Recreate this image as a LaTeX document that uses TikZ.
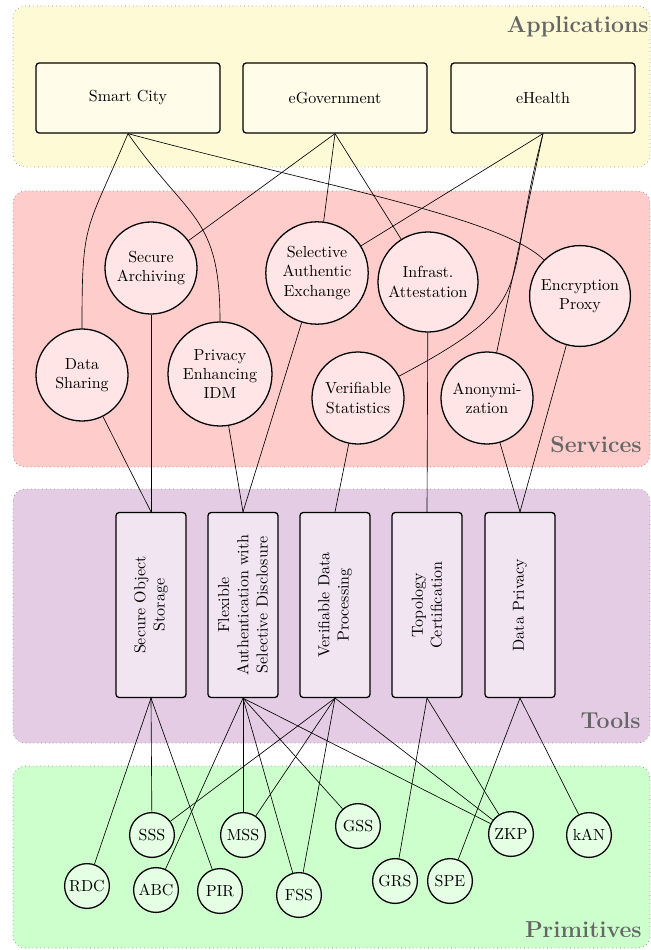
\documentclass[tikz,border=0pt]{standalone}
\usepackage{tikz}
\definecolor{appyellow}{RGB}{255,250,214}
\definecolor{appbox}{RGB}{255,252,234}
\tikzset{
  app_n/.style = {rectangle, rounded corners=2pt, draw=black, thick,
    fill=appbox, minimum width=115pt, minimum height=43.75pt, align=center},
  srv_n/.style = {circle, draw=black, thick, fill=red!10, inner sep=-5pt,
    minimum size=57.5pt, align=center},
  tool_n/.style = {rectangle, rounded corners=2pt, draw=black, thick,
    fill=violet!10, rotate=90, minimum width=115.6pt, minimum height=43.75pt,
    align=center},
  prim_n/.style = {circle, draw=black, thick, fill=green!10, inner sep=0.5pt,
    minimum size=28pt},
  layer_bg/.style = {rounded corners=7.5pt, draw=gray, dotted},
  layer_lbl/.style = {font=\Large\bfseries, text=black!60, anchor=base east,
    inner sep=0pt}
}
\begin{document}
\begin{tikzpicture}[x=0.625pt,y=0.625pt]
  \useasboundingbox (0,0) rectangle (651,-950);
  \filldraw[layer_bg, fill=appyellow] (13,-6) rectangle (650,-167);
  \filldraw[layer_bg, fill=red!20] (13,-191) rectangle (650,-467);
  \filldraw[layer_bg, fill=violet!20] (13,-489) rectangle (650,-743);
  \filldraw[layer_bg, fill=green!20] (13,-766) rectangle (650,-948);
  \node[layer_lbl] (l_app) at (649,-33) {Applications};
  \node[layer_lbl] (l_srv) at (642,-452) {Services};
  \node[layer_lbl] (l_tool) at (641,-728) {Tools};
  \node[layer_lbl] (l_prim) at (642,-937) {Primitives};

  \node[app_n] (sc) at (128,-98) {Smart City};
  \node[app_n] (eg) at (335,-98) {eGovernment};
  \node[app_n] (eh) at (543,-98) {eHealth};

  \node[srv_n] (sa) at (151,-268) {Secure\\Archiving};
  \node[srv_n] (ds) at (82,-375) {Data\\Sharing};
  \node[srv_n, minimum size=65pt] (pi) at (220,-374) {Privacy\\Enhancing\\IDM};
  \node[srv_n, minimum size=64pt] (se) at (317,-273) {Selective\\Authentic\\Exchange};
  \node[srv_n, minimum size=62.5pt] (ia) at (428,-282) {Infrast.\\Attestation};
  \node[srv_n, minimum size=63pt] (ep) at (580,-296) {Encryption\\Proxy};
  \node[srv_n] (vs) at (358,-398) {Verifiable\\Statistics};
  \node[srv_n] (an) at (487,-398) {Anonymi-\\zation};

  \node[tool_n] (sos) at (151,-605) {Secure Object\\Storage};
  \node[tool_n] (fa) at (243,-605) {Flexible\\Authentication with\\Selective Disclosure};
  \node[tool_n] (vdp) at (335,-605) {Verifiable Data\\Processing};
  \node[tool_n] (tc) at (427,-605) {Topology\\Certification};
  \node[tool_n] (dp) at (520,-605) {Data Privacy};

  \node[prim_n] (sss) at (152,-835) {SSS};
  \node[prim_n] (mss) at (243,-835) {MSS};
  \node[prim_n] (gss) at (358,-826) {GSS};
  \node[prim_n] (zkp) at (511,-834) {ZKP};
  \node[prim_n] (kan) at (589,-835) {kAN};
  \node[prim_n] (rdc) at (87,-886) {RDC};
  \node[prim_n] (abc) at (156,-890) {ABC};
  \node[prim_n] (pir) at (220,-891) {PIR};
  \node[prim_n] (fss) at (299,-895) {FSS};
  \node[prim_n] (grs) at (395,-881) {GRS};
  \node[prim_n] (spe) at (450,-881) {SPE};

  \draw (sc.south) to[out=-113,in=90,looseness=1.4] (ds);
  \draw (sc.south) to[out=-55,in=90,looseness=1.3] (pi);
  \draw (sc.south) .. controls +(-15:200) and +(135:60) .. (ep.135);
  \foreach \s in {sa,se,ia} \draw (eg.south) -- (\s);
  \draw (eh.south) -- (se);
  \draw (eh.south) to[out=-105,in=28,looseness=1.5] (vs);
  \draw (eh.south) -- (an);

  \foreach \s in {ds,sa} \draw (\s) -- (sos.east);
  \foreach \s in {pi,se} \draw (\s) -- (fa.east);
  \draw (vs) -- (vdp.east);
  \draw (ia) -- (tc.east);
  \foreach \s in {an,ep} \draw (\s) -- (dp.east);

  \foreach \p in {rdc,sss,pir} \draw (sos.west) -- (\p);
  \foreach \p in {abc,mss,fss,gss,zkp} \draw (fa.west) -- (\p);
  \foreach \p in {sss,mss,fss,zkp} \draw (vdp.west) -- (\p);
  \foreach \p in {grs,zkp} \draw (tc.west) -- (\p);
  \foreach \p in {spe,kan} \draw (dp.west) -- (\p);
\end{tikzpicture}
\end{document}
